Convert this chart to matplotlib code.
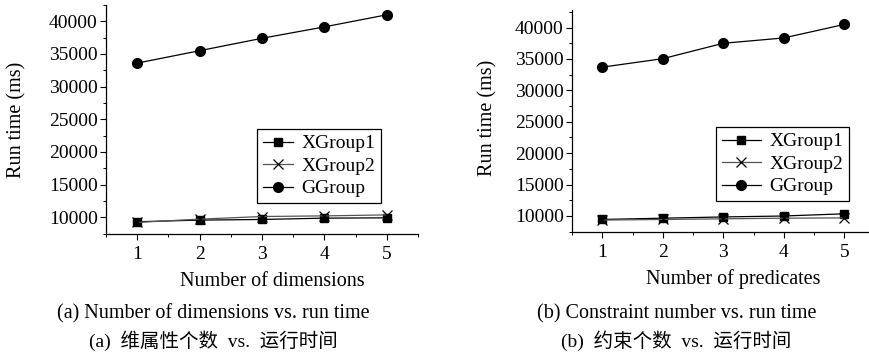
import matplotlib
matplotlib.use("Agg")
import matplotlib.pyplot as plt
from matplotlib.ticker import MultipleLocator

plt.rcParams['font.family'] = ['Liberation Serif', 'Noto Sans CJK SC']
plt.rcParams['mathtext.fontset'] = 'stix'

x = [1, 2, 3, 4, 5]

# (a) number of dimensions
dim_xgroup1 = [9300, 9550, 9650, 9850, 9900]
dim_xgroup2 = [9200, 9700, 10100, 10200, 10350]
dim_ggroup = [33600, 35500, 37400, 39150, 41000]

# (b) number of predicates
pred_xgroup1 = [9450, 9650, 9850, 10000, 10350]
pred_xgroup2 = [9350, 9450, 9550, 9650, 9700]
pred_ggroup = [33700, 35050, 37500, 38350, 40500]

labels = ['XGroup1', 'XGroup2', 'GGroup']
W, H = 869, 353
fig = plt.figure(figsize=(W / 100, H / 100), dpi=100)


def px_axes(left, top, right, bottom):
    return fig.add_axes([left / W, 1 - bottom / H, (right - left) / W, (bottom - top) / H])


def draw(ax, s1, s2, s3, ylim, leg_box, handlelength):
    ax.plot(x, s1, color='black', lw=0.9, marker='s', ms=6.2, label=labels[0])
    ax.plot(x, s2, color='#555555', lw=0.9, marker='x', ms=7.5, mew=0.9,
            mec='black', label=labels[1])
    ax.plot(x, s3, color='black', lw=0.9, marker='o', ms=7, label=labels[2])
    ax.set_xlim(0.5, 5.5)
    ax.set_ylim(*ylim)
    ax.set_xticks(x)
    ax.xaxis.set_minor_locator(MultipleLocator(0.5))
    ax.yaxis.set_major_locator(MultipleLocator(5000))
    ax.yaxis.set_minor_locator(MultipleLocator(2500))
    for side in ('top', 'right'):
        ax.spines[side].set_visible(False)
    for side in ('left', 'bottom'):
        ax.spines[side].set_linewidth(0.9)
    ax.tick_params(which='major', direction='out', length=4, width=0.8,
                   labelsize=14, pad=2)
    ax.tick_params(axis='x', which='major', pad=5)
    ax.tick_params(which='minor', direction='out', length=2.5, width=0.7)
    l, t, r, b = leg_box
    leg = ax.legend(loc='upper left', bbox_to_anchor=(l / W, 1 - t / H),
                    bbox_transform=fig.transFigure, fontsize=14, frameon=True,
                    fancybox=False, edgecolor='black', framealpha=1,
                    handlelength=handlelength, handletextpad=0.45, borderpad=0.3,
                    labelspacing=0.25, borderaxespad=0)
    leg.get_frame().set_linewidth(0.9)


ax1 = px_axes(106, 5, 418, 233.5)
draw(ax1, dim_xgroup1, dim_xgroup2, dim_ggroup, (7500, 42500), (257, 129, 382, 206), 1.55)

ax2 = px_axes(572, 10, 874.5, 231.7)
draw(ax2, pred_xgroup1, pred_xgroup2, pred_ggroup, (7500, 42800), (716, 127, 850, 203), 2.0)


def ftext(px, py, s, **kw):
    fig.text(px / W, 1 - py / H, s, ha='center', va='center', **kw)


ftext(17, 120, 'Run time (ms)', rotation=90, fontsize=14.5)
ftext(488, 118, 'Run time (ms)', rotation=90, fontsize=14.5)
ftext(272, 282, 'Number of dimensions', fontsize=14.5)
ftext(733, 279, 'Number of predicates', fontsize=14.5)
ftext(213, 314, '(a) Number of dimensions vs. run time', fontsize=14.5)
ftext(213, 341, '(a)  维属性个数  vs.  运行时间', fontsize=14)
ftext(677, 314, '(b) Constraint number vs. run time', fontsize=14.5)
ftext(676, 341, '(b)  约束个数  vs.  运行时间', fontsize=14)

fig.savefig('out.png', dpi=100)
